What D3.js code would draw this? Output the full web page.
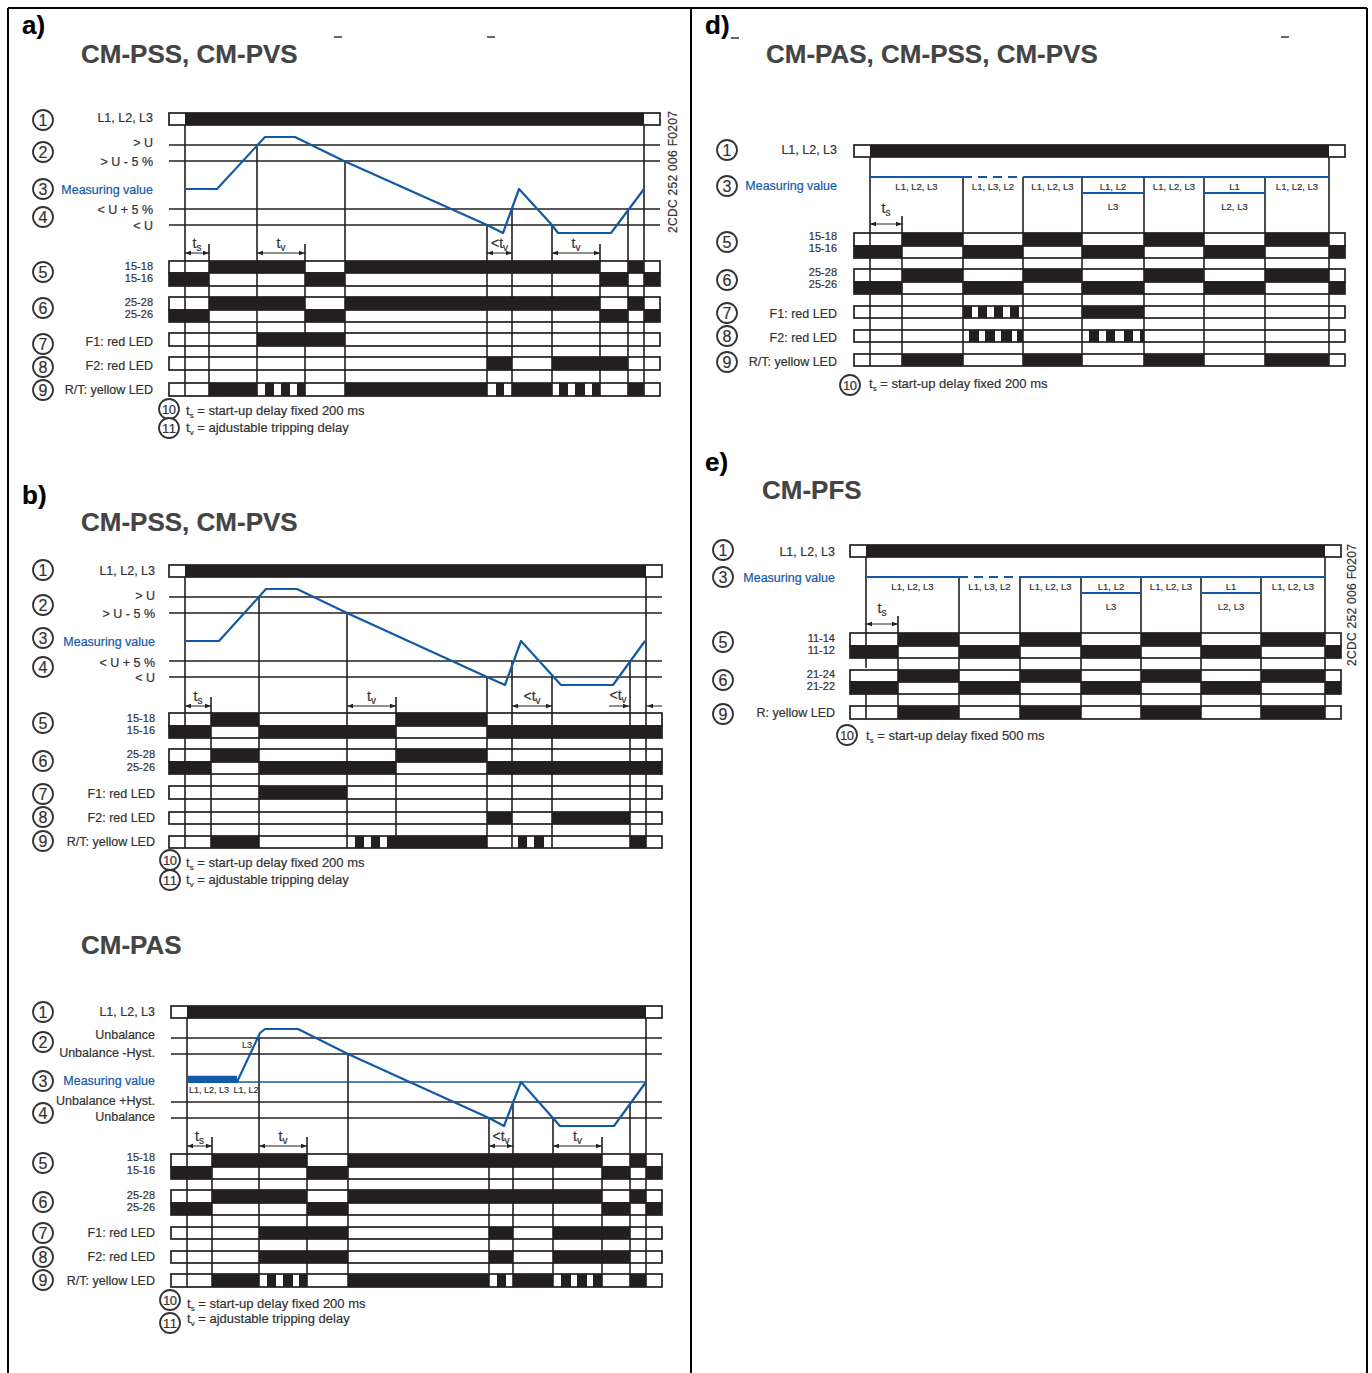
<!DOCTYPE html>
<html lang="en">
<head>
<meta charset="UTF-8">
<title>Timing diagrams CM-PSS, CM-PVS, CM-PAS, CM-PFS</title>
<script src="https://d3js.org/d3.v7.min.js"></script>
<style>
  html, body { margin: 0; padding: 0; background: #fff; }
  svg { display: block; }
  text { font-family: "Liberation Sans", Arial, sans-serif; fill: #333; stroke: #333; stroke-width: 0.2px; }
</style>
</head>
<body>
<div id="chart"></div>
<script>
// times are read off the picture, 0 = supply switched on, one unit is about a pixel
// levels: 0 = "<U", 80 = ">U", the same in the panels a, b and CM-PAS

// panel a
var aContact = [[24, 120], [160, 415], [443, 459]];
var aF1 = [[72, 160]];
var aF2 = [[302, 327], [367, 443]];
var aRT = [[24, 72], [80, 89], [96, 105], [112, 120], [160, 302], [311, 319], [327, 367], [374, 383], [390, 400], [407, 415], [443, 459]];
var aTrace = [[0, 36], [32, 36], [80, 88], [110, 88], [159, 64], [302, 0], [318, -8], [334, 36], [367, 0], [373, -8], [426, -8], [459, 36]];
var aLines = [[0, null], [72, 80], [160, 64], [302, 0], [327, 16], [367, 0], [443, 16], [459, null]];
var aTicks = [24, 120, 415];
var aSpans = [[0, 24, "<", "s"], [72, 120, "", "v"], [302, 327, "<", "v"], [367, 415, "", "v"]];

// panel b
var bContact = [[26, 74], [211, 302]];
var bF1 = [[74, 162]];
var bF2 = [[302, 327], [367, 445]];
var bRT = [[26, 74], [170, 179], [186, 195], [202, 302], [333, 342], [349, 359], [445, 461]];
var bTrace = [[0, 36], [34, 36], [81, 88], [112, 88], [162, 64], [302, 0], [320, -8], [336, 36], [376, -8], [428, -8], [460, 36]];
var bLines = [[0, null], [74, 80], [162, 64], [302, 0], [327, 16], [367, 0], [445, 16], [461, null]];
var bTicks = [26, 211];
var bSpans = [[0, 26, "<", "s"], [162, 211, "", "v"], [327, 367, "<", "v"], [445, 461, "<", "v"]];

// panel CM-PAS
var cContact = [[25, 120], [161, 415], [443, 459]];
var cF1 = [[72, 161], [302, 326], [366, 443]];
var cF2 = [[72, 161], [302, 326], [366, 443]];
var cRT = [[25, 72], [80, 89], [96, 106], [112, 120], [161, 302], [310, 319], [326, 366], [374, 384], [390, 400], [406, 415], [443, 459]];
var cTrace = [[0, 36], [50, 36], [73, 85], [78, 89], [111, 89], [161, 64], [302, 0], [317, -8], [334, 36], [373, -8], [427, -8], [459, 36]];
var cLines = [[0, null], [72, 80], [161, 64], [302, 0], [326, 16], [366, 0], [443, 16], [459, null]];
var cTicks = [25, 120, 415];
var cSpans = [[0, 25, "<", "s"], [72, 120, "", "v"], [302, 326, "<", "v"], [366, 415, "", "v"]];
var cBase = [[0, 459]];
var cThick = [[0, 50]];

// panel d
var dContact = [[32, 93], [153, 212], [274, 334], [395, 459]];
var dF1 = [[93, 102], [108, 117], [124, 133], [140, 149], [212, 274]];
var dF2 = [[99, 109], [115, 125], [131, 142], [147, 153], [219, 229], [236, 245], [254, 263], [270, 274]];
var dLines = [0, 93, 153, 212, 274, 334, 395, 459];
var dPhases = ["L1, L2, L3", "L1, L3, L2", "L1, L2, L3", "L1, L2", "L1, L2, L3", "L1", "L1, L2, L3"];
var dLost = [[3, "L3"], [5, "L2, L3"]];

// panel e
var eContact = [[32, 93], [154, 215], [275, 335], [395, 459]];
var eLines = [0, 93, 154, 215, 275, 335, 395, 459];
var ePhases = ["L1, L2, L3", "L1, L3, L2", "L1, L2, L3", "L1, L2", "L1, L2, L3", "L1", "L1, L2, L3"];
var eLost = [[3, "L3"], [5, "L2, L3"]];

var ink = "#231f20", blue = "#1259a7", pale = "#fff";

var svg = d3.select("#chart").append("svg").attr("width", 1372).attr("height", 1373);

// table frame
[[8, 8, 8, 1373], [691, 8, 691, 1373], [1367, 8, 1367, 1373], [8, 8, 1367, 8]].forEach(function (d) {
  svg.append("line").attr("x1", d[0]).attr("y1", d[1]).attr("x2", d[2]).attr("y2", d[3])
    .attr("stroke", "#000").attr("stroke-width", 2);
});

// scan leftovers above the titles
[[338, 37], [491, 37], [735, 38], [1285, 37]].forEach(function (d) {
  svg.append("line").attr("x1", d[0] - 4).attr("x2", d[0] + 4).attr("y1", d[1]).attr("y2", d[1])
    .attr("stroke", "#555").attr("stroke-width", 1.8);
});

function label(x, y, s, size, anchor, color, weight) {
  return svg.append("text").attr("x", x).attr("y", y).attr("dy", "0.35em")
    .attr("text-anchor", anchor || "end").attr("font-size", size || 12.5)
    .attr("font-weight", weight || "normal")
    .style("fill", color || "#333").style("stroke", color || "#333").text(s);
}

// the two contact names sit close together, so they stay a bit smaller
function pair(x, y1, y2, a, b) {
  label(x, y1, a, 11);
  label(x, y2, b, 11);
}

function badge(x, y, n) {
  svg.append("circle").attr("cx", x).attr("cy", y).attr("r", 10)
    .attr("fill", "#fff").attr("stroke", "#333").attr("stroke-width", 1.8);
  svg.append("text").attr("x", x).attr("y", y).attr("dy", "0.36em").attr("text-anchor", "middle")
    .attr("font-size", n > 9 ? 13 : 16).attr("textLength", n > 9 ? 14 : null).text(n);
}

// a row: one white box, dark pieces on top
function band(x, top, bottom, pieces) {
  svg.append("rect").attr("x", x.range()[0]).attr("y", top)
    .attr("width", x.range()[1] - x.range()[0]).attr("height", bottom - top)
    .attr("fill", pale).attr("stroke", ink).attr("stroke-width", 1.7);
  svg.append("g").selectAll("rect").data(pieces).join("rect")
    .attr("x", function (d) { return x(d[0]); })
    .attr("width", function (d) { return x(d[1]) - x(d[0]); })
    .attr("y", top).attr("height", bottom - top).attr("fill", ink);
}

// the opposite contact is dark wherever the first one is not
function rest(x, pieces) {
  var out = [], at = x.domain()[0];
  pieces.forEach(function (d) { if (d[0] > at) out.push([at, d[0]]); at = d[1]; });
  if (at < x.domain()[1]) out.push([at, x.domain()[1]]);
  return out;
}

function vline(x1, y1, y2) {
  svg.append("line").attr("x1", x1).attr("x2", x1).attr("y1", y1).attr("y2", y2)
    .attr("stroke", ink).attr("stroke-width", 1.6);
}

function subT(x, y, pre, sub, size) {
  var t = svg.append("text").attr("x", x).attr("y", y).attr("dy", "0.35em")
    .attr("text-anchor", "middle").attr("font-size", size || 14);
  t.append("tspan").text(pre + "t");
  t.append("tspan").attr("font-size", 10).attr("dy", 3).text(sub);
}

function foot(x, y, sub, s) {
  var t = svg.append("text").attr("x", x).attr("y", y).attr("dy", "0.35em").attr("font-size", 13);
  t.append("tspan").text("t");
  t.append("tspan").attr("font-size", 8).attr("dy", 3).text(sub);
  t.append("tspan").attr("dy", -3).text(" = " + s);
}

function arrow(x1, x2, y) {
  svg.append("line").attr("x1", x1).attr("x2", x2).attr("y1", y).attr("y2", y)
    .attr("stroke", ink).attr("stroke-width", 1);
  var dir = x2 > x1 ? 1 : -1;
  [[x2, dir], [x1, -dir]].forEach(function (h) {
    svg.append("path")
      .attr("d", "M" + h[0] + "," + y + "l" + (-h[1] * 6) + ",-2.2v4.4z")
      .attr("fill", ink);
  });
}

function outward(x1, x2, y) {
  [[x1 - 21, x1, 1], [x2 + 16, x2, -1]].forEach(function (h) {
    svg.append("line").attr("x1", h[0]).attr("x2", h[1]).attr("y1", y).attr("y2", y)
      .attr("stroke", ink).attr("stroke-width", 1);
    svg.append("path").attr("d", "M" + (h[1] - h[2]) + "," + y + "l" + (-h[2] * 6) + ",-2.2v4.4z").attr("fill", ink);
  });
}

function timing(p) {
  var x = d3.scaleLinear().domain([-16, p.end + 16]).range([p.left, p.right]);
  var y = d3.scaleLinear().domain([0, 80]).range([p.low, p.high]);
  var line = d3.line().x(function (d) { return x(d[0]); }).y(function (d) { return y(d[1]); });

  label(p.labelX, p.rows[0][2], "L1, L2, L3");
  band(x, p.rows[0][0], p.rows[0][1], [[0, p.end]]);
  [80, 64, 16, 0].forEach(function (v) {
    svg.append("line").attr("x1", x.range()[0]).attr("x2", x.range()[1]).attr("y1", y(v)).attr("y2", y(v))
      .attr("stroke", ink).attr("stroke-width", 1.5);
  });

  // contact rows
  band(x, p.rows[1][0], p.rows[1][1], p.contact);
  band(x, p.rows[1][1], p.rows[1][2], rest(x, p.contact));
  band(x, p.rows[2][0], p.rows[2][1], p.contact);
  band(x, p.rows[2][1], p.rows[2][2], rest(x, p.contact));
  band(x, p.rows[3][0], p.rows[3][1], p.f1);
  band(x, p.rows[4][0], p.rows[4][1], p.f2);
  band(x, p.rows[5][0], p.rows[5][1], p.rt);

  var bottom = p.rows[5][1];
  p.lines.forEach(function (d) {
    vline(x(d[0]), d[1] === null ? p.rows[0][1] : y(d[1]), bottom);
  });
  p.ticks.forEach(function (t) { vline(x(t), p.arrowY - 9, bottom); });

  // measuring value
  if (p.base) {
    p.base.forEach(function (d) {
      svg.append("path").attr("d", line([[d[0], 36], [d[1], 36]])).attr("fill", "none").attr("stroke", blue).attr("stroke-width", 1.5);
    });
    p.thick.forEach(function (d) {
      svg.append("path").attr("d", line([[d[0], 39], [d[1], 39]])).attr("fill", "none").attr("stroke", blue).attr("stroke-width", 6.5);
    });
  }
  svg.append("path").attr("d", line(p.trace)).attr("fill", "none").attr("stroke", blue)
    .attr("stroke-width", 2.2).attr("stroke-linejoin", "round");

  p.spans.forEach(function (s, i) {
    var short = s[3] === "s";
    var mid = (x(s[0]) + x(s[1])) / 2;
    if (p.outwardLast && i === p.spans.length - 1) {
      outward(x(s[0]), x(s[1]), p.arrowY);
      subT(x(s[0]) - 12, p.arrowY - 11, "<", s[3]);
    } else {
      arrow(x(s[0]), x(s[1]), p.arrowY);
      subT(mid, p.arrowY - 10, short ? "" : s[2], s[3]);
    }
  });
}

function phases(p) {
  var x = d3.scaleLinear().domain([-16, p.end + 16]).range([p.left, p.right]);
  var y = d3.scaleLinear().domain([0, 1]).range([p.low, p.high]);
  var line = d3.line().x(function (d) { return x(d[0]); }).y(function (d) { return y(d[1]); });

  label(p.labelX, p.rows[0][2], "L1, L2, L3");
  band(x, p.rows[0][0], p.rows[0][1], [[0, p.end]]);
  band(x, p.rows[1][0], p.rows[1][1], p.contact);
  band(x, p.rows[1][1], p.rows[1][2], rest(x, p.contact));
  band(x, p.rows[2][0], p.rows[2][1], p.contact);
  band(x, p.rows[2][1], p.rows[2][2], rest(x, p.contact));
  p.leds.forEach(function (l) { band(x, l[0], l[1], l[2]); });

  var bottom = p.leds[p.leds.length - 1][1];
  var ev = p.lines;
  ev.forEach(function (t, i) {
    var from = (i === 0 || i === ev.length - 1) ? p.rows[0][1] : y(1);
    if (p.gapFirst && i === 0) {
      vline(x(t), from, p.rows[2][0] - 2);
      vline(x(t), p.rows[2][2], bottom);
    } else {
      vline(x(t), from, bottom);
    }
  });
  vline(x(p.ts), p.arrowY - 8, bottom);

  // measuring value: full line, one phase swapped (dashed), phases lost (step down)
  [[ev[0], ev[1]], [ev[2], ev[7]]].forEach(function (d) {
    svg.append("path").attr("d", line([[d[0], 1], [d[1], 1]])).attr("stroke", blue).attr("stroke-width", 1.8);
  });
  svg.append("path").attr("d", line([[ev[1], 1], [ev[2], 1]])).attr("stroke", blue)
    .attr("stroke-width", 1.8).attr("stroke-dasharray", "9,6");
  p.lost.forEach(function (d) {
    svg.append("path").attr("d", line([[ev[d[0]], 0], [ev[d[0] + 1], 0]])).attr("stroke", blue).attr("stroke-width", 1.8);
    label((x(ev[d[0]]) + x(ev[d[0] + 1])) / 2, y(0) + 14, d[1], 9.5, "middle");
  });
  p.names.forEach(function (s, i) {
    label((x(ev[i]) + x(ev[i + 1])) / 2, y(1) + 10, s, 9.5, "middle");
  });

  arrow(x(0), x(p.ts), p.arrowY);
  subT((x(0) + x(p.ts)) / 2, p.arrowY - 16, "", "s");
}

// --- panel a
label(22, 25, "a)", 26, "start", "#000", "bold");
label(81, 54, "CM-PSS, CM-PVS", 26, "start", "#444", "bold");
timing({ left: 169, right: 660, end: 459, low: 225, high: 145, labelX: 153, arrowY: 253,
  rows: [[113, 125, 118], [261, 273, 286], [297, 310, 322], [333, 346], [357, 370], [383, 396]],
  contact: aContact, f1: aF1, f2: aF2, rt: aRT, trace: aTrace, lines: aLines, ticks: aTicks, spans: aSpans });
[[">  U", 143], [">  U - 5 %", 162], ["< U + 5 %", 210], ["< U", 226], ["F1: red LED", 342], ["F2: red LED", 366], ["R/T: yellow LED", 390]]
  .forEach(function (d) { label(153, d[1], d[0]); });
pair(153, 266, 278, "15-18", "15-16");
pair(153, 302, 314, "25-28", "25-26");
label(153, 190, "Measuring value", 12.5, "end", blue);
[120, 152, 189, 217, 272, 308, 344, 367, 390].forEach(function (y, i) { badge(43, y, i + 1); });
badge(169, 409, 10); badge(169, 428, 11);
foot(186, 410, "s", "start-up delay fixed 200 ms");
foot(186, 427, "v", "ajdustable tripping delay");

// --- panel b
label(22, 495, "b)", 26, "start", "#000", "bold");
label(81, 522, "CM-PSS, CM-PVS", 26, "start", "#444", "bold");
timing({ left: 169, right: 662, end: 461, low: 677, high: 597, labelX: 155, arrowY: 706, outwardLast: true,
  rows: [[565, 577, 571], [713, 726, 738], [749, 762, 774], [786, 799], [812, 824], [836, 848]],
  contact: bContact, f1: bF1, f2: bF2, rt: bRT, trace: bTrace, lines: bLines, ticks: bTicks, spans: bSpans });
[[">  U", 596], [">  U - 5 %", 614], ["< U + 5 %", 663], ["< U", 678], ["F1: red LED", 794], ["F2: red LED", 818], ["R/T: yellow LED", 842]]
  .forEach(function (d) { label(155, d[1], d[0]); });
pair(155, 718, 730, "15-18", "15-16");
pair(155, 754, 767, "25-28", "25-26");
label(155, 642, "Measuring value", 12.5, "end", blue);
[570, 605, 638, 667, 723, 761, 794, 817, 841].forEach(function (y, i) { badge(43, y, i + 1); });
badge(170, 860, 10); badge(170, 880, 11);
foot(186, 862, "s", "start-up delay fixed 200 ms");
foot(186, 879, "v", "ajdustable tripping delay");

// --- panel CM-PAS
label(81, 945, "CM-PAS", 26, "start", "#444", "bold");
timing({ left: 171, right: 662, end: 459, low: 1118, high: 1038, labelX: 155, arrowY: 1146,
  rows: [[1006, 1018, 1012], [1154, 1167, 1179], [1190, 1203, 1215], [1227, 1239], [1251, 1263], [1274, 1287]],
  contact: cContact, f1: cF1, f2: cF2, rt: cRT, trace: cTrace, lines: cLines, ticks: cTicks, spans: cSpans,
  base: cBase, thick: cThick });
[["Unbalance", 1035], ["Unbalance -Hyst.", 1053], ["Unbalance +Hyst.", 1101], ["Unbalance", 1117], ["F1: red LED", 1233], ["F2: red LED", 1257], ["R/T: yellow LED", 1281]]
  .forEach(function (d) { label(155, d[1], d[0]); });
pair(155, 1157, 1170, "15-18", "15-16");
pair(155, 1195, 1207, "25-28", "25-26");
label(155, 1081, "Measuring value", 12.5, "end", blue);
label(247, 1045, "L3", 9, "middle");
label(209, 1090, "L1, L2, L3", 9, "middle");
label(246, 1090, "L1, L2", 9, "middle");
[1012, 1042, 1081, 1113, 1163, 1202, 1233, 1257, 1280].forEach(function (y, i) { badge(43, y, i + 1); });
badge(170, 1300, 10); badge(170, 1323, 11);
foot(187, 1303, "s", "start-up delay fixed 200 ms");
foot(187, 1318, "v", "ajdustable tripping delay");

// --- panel d
label(705, 25, "d)", 26, "start", "#000", "bold");
label(766, 54, "CM-PAS, CM-PSS, CM-PVS", 26, "start", "#444", "bold");
phases({ left: 854, right: 1345, end: 459, low: 193, high: 177, labelX: 837, arrowY: 224, ts: 32,
  rows: [[145, 157, 150], [233, 246, 258], [269, 282, 294]],
  leds: [[306, 318, dF1], [330, 342, dF2], [354, 366, dContact]],
  contact: dContact, lines: dLines, names: dPhases, lost: dLost });
[["F1: red LED", 314], ["F2: red LED", 338], ["R/T: yellow LED", 362]]
  .forEach(function (d) { label(837, d[1], d[0]); });
pair(837, 236, 248, "15-18", "15-16");
pair(837, 272, 284, "25-28", "25-26");
label(837, 186, "Measuring value", 12.5, "end", blue);
[[150, 1], [186, 3], [242, 5], [280, 6], [313, 7], [336, 8], [362, 9]].forEach(function (d) { badge(727, d[0], d[1]); });
badge(850, 385, 10);
foot(869, 383, "s", "start-up delay fixed 200 ms");

// --- panel e
label(705, 462, "e)", 26, "start", "#000", "bold");
label(762, 490, "CM-PFS", 26, "start", "#444", "bold");
phases({ left: 850, right: 1341, end: 459, low: 593, high: 577, labelX: 835, arrowY: 624, ts: 32, gapFirst: true,
  rows: [[545, 557, 552], [633, 646, 658], [670, 682, 694]],
  leds: [[706, 719, eContact]],
  contact: eContact, lines: eLines, names: ePhases, lost: eLost });
label(835, 713, "R: yellow LED");
pair(835, 638, 650, "11-14", "11-12");
pair(835, 674, 686, "21-24", "21-22");
label(835, 578, "Measuring value", 12.5, "end", blue);
[[550, 1], [577, 3], [642, 5], [680, 6], [714, 9]].forEach(function (d) { badge(723, d[0], d[1]); });
badge(847, 735, 10);
foot(866, 735, "s", "start-up delay fixed 500 ms");

// document number printed up the side
[[673, 172], [1352, 605]].forEach(function (d) {
  svg.append("text").attr("transform", "translate(" + d[0] + "," + d[1] + ") rotate(-90)")
    .attr("text-anchor", "middle").attr("dy", "0.35em").attr("font-size", 12)
    .attr("textLength", 122).text("2CDC 252 006 F0207");
});
</script>
</body>
</html>
